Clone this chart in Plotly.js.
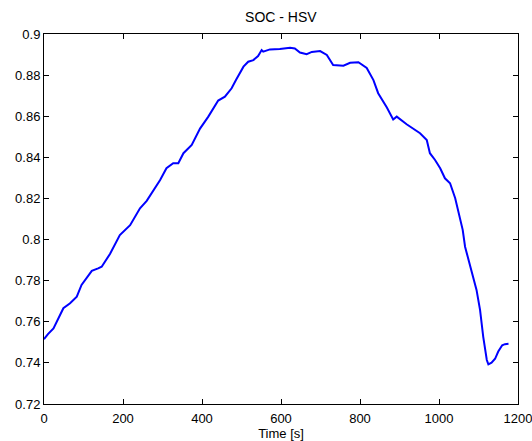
<!DOCTYPE html>
<html>
<head>
<meta charset="utf-8">
<script src="https://cdn.plot.ly/plotly-3.0.1.min.js"></script>
<style>html,body{margin:0;padding:0;background:#fff;}#plot{width:532px;height:441px;}</style>
</head>
<body>
<div id="plot"></div>
<script>
const timeS = [0, 10, 24, 49, 66, 83, 95, 121, 137, 146, 167, 192, 218, 243, 260, 294, 310, 327, 340, 353, 374, 395, 416, 441, 458, 475, 486, 505, 517, 530, 542, 551, 555, 572, 597, 623, 635, 648, 665, 678, 699, 716, 732, 745, 758, 775, 796, 817, 834, 846, 868, 884, 893, 918, 935, 952, 969, 977, 990, 1003, 1015, 1028, 1041, 1053, 1060, 1066, 1087, 1095, 1104, 1112, 1121, 1125, 1133, 1142, 1150, 1160, 1167, 1176];
const soc = [0.7515, 0.7540, 0.7568, 0.7666, 0.7690, 0.7722, 0.7779, 0.7848, 0.7860, 0.7868, 0.7930, 0.8022, 0.8070, 0.8152, 0.8188, 0.8290, 0.8347, 0.8371, 0.8371, 0.8420, 0.8460, 0.8540, 0.8598, 0.8676, 0.8695, 0.8736, 0.8776, 0.8841, 0.8865, 0.8873, 0.8893, 0.8922, 0.8914, 0.8925, 0.8927, 0.8933, 0.8930, 0.8910, 0.8902, 0.8913, 0.8917, 0.8898, 0.8849, 0.8849, 0.8846, 0.8860, 0.8863, 0.8835, 0.8776, 0.8712, 0.8642, 0.8584, 0.8598, 0.8561, 0.8538, 0.8517, 0.8484, 0.8420, 0.8387, 0.8347, 0.8298, 0.8274, 0.8201, 0.8095, 0.8047, 0.7965, 0.7812, 0.7755, 0.7657, 0.7527, 0.7414, 0.7393, 0.7401, 0.7420, 0.7455, 0.7486, 0.7491, 0.7493];
const xTicks = [0, 200, 400, 600, 800, 1000, 1200];
const yTicks = [0.72, 0.74, 0.76, 0.78, 0.8, 0.82, 0.84, 0.86, 0.88, 0.9];
const yTickText = ['0.72', '0.74', '0.76', '0.78', '0.8', '0.82', '0.84', '0.86', '0.88', '0.9'];

const font = {family: 'Liberation Sans, Arial, Helvetica, sans-serif', size: 13, color: '#000'};
const titleFont = Object.assign({}, font, {size: 14});
const trace = {x: timeS, y: soc, type: 'scatter', mode: 'lines', line: {color: '#0000ff', width: 2}};
const axisCommon = {showgrid: false, zeroline: false, showline: true, linecolor: '#000', linewidth: 1,
  mirror: 'ticks', ticks: 'inside', ticklen: 5, tickcolor: '#000', tickwidth: 1, tickfont: font,
  ticklabeloverflow: 'allow'};
const layout = {
  width: 532, height: 441,
  margin: {l: 44, r: 14, t: 34, b: 37},
  paper_bgcolor: '#fff', plot_bgcolor: '#fff',
  font: font,
  showlegend: false,
  title: {text: 'SOC - HSV', font: titleFont, x: 0.528, xanchor: 'center', y: 0.962, yanchor: 'middle'},
  xaxis: Object.assign({}, axisCommon, {range: [0, 1200], tickvals: xTicks, ticktext: xTicks.map(String),
    ticklabelstandoff: 2, title: {text: 'Time [s]', font: font, standoff: 4}}),
  yaxis: Object.assign({}, axisCommon, {range: [0.72, 0.9], tickvals: yTicks, ticktext: yTickText})
};
Plotly.newPlot('plot', [trace], layout, {displayModeBar: false, staticPlot: true});
</script>
</body>
</html>
